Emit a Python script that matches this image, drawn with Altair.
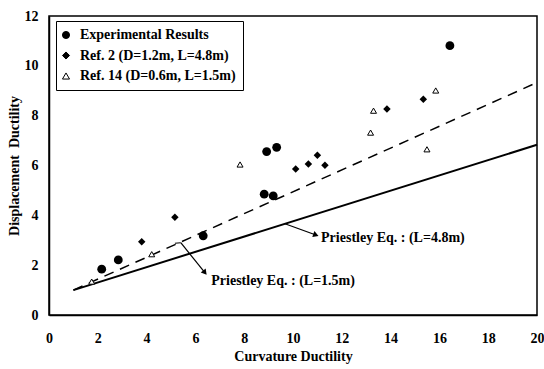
import altair as alt
import pandas as pd

# ---- data ----
series_names = ["Experimental Results", "Ref. 2 (D=1.2m, L=4.8m)", "Ref. 14 (D=0.6m, L=1.5m)"]

exp_x = [2.16, 2.84, 6.32, 8.82, 9.19, 8.92, 9.33, 16.43]
exp_y = [1.84, 2.21, 3.18, 4.85, 4.78, 6.56, 6.73, 10.81]
ref2_x = [3.80, 5.16, 10.11, 10.63, 11.00, 11.31, 13.85, 15.34]
ref2_y = [2.94, 3.92, 5.86, 6.06, 6.41, 6.01, 8.27, 8.66]
ref14_x = [1.75, 4.21, 7.83, 13.18, 13.30, 15.49, 15.85]
ref14_y = [1.34, 2.44, 6.04, 7.32, 8.20, 6.65, 9.01]

# Priestley equation lines (straight lines)
line_x = [1, 20]
solid_y = [1.0, 6.83]
dashed_y = [1.0, 9.33]

# annotations
ann_text = ["Priestley Eq. : (L=4.8m)", "Priestley Eq. : (L=1.5m)"]
ann_text_x = [11.15, 6.65]
ann_text_y = [3.09, 1.37]
leader_x = [9.67, 5.16, 5.40]
leader_y = [3.66, 2.88, 2.90]
leader_x2 = [10.94, 5.40, 6.39]
leader_y2 = [3.21, 2.90, 1.70]
head_x = [10.94, 6.39]
head_y = [3.21, 1.70]
head_angle = [19.5, 51]

x_ticks = list(range(0, 21, 2))
y_ticks = list(range(0, 13, 2))

FONT = "Liberation Serif"

exp_df = pd.DataFrame({"x": exp_x, "y": exp_y})
ref2_df = pd.DataFrame({"x": ref2_x, "y": ref2_y})
ref14_df = pd.DataFrame({"x": ref14_x, "y": ref14_y})
legend_df = pd.DataFrame({"x": [exp_x[0], ref2_x[0], ref14_x[0]],
                          "y": [exp_y[0], ref2_y[0], ref14_y[0]],
                          "series": series_names})

solid_df = pd.DataFrame({"x": line_x, "y": solid_y})
dashed_df = pd.DataFrame({"x": line_x, "y": dashed_y})
ann = pd.DataFrame({"x": ann_text_x, "y": ann_text_y, "t": ann_text})
lead = pd.DataFrame({"x": leader_x, "y": leader_y, "x2": leader_x2, "y2": leader_y2})
heads = pd.DataFrame({"x": head_x, "y": head_y, "a": head_angle})

xs = alt.Scale(domain=[0, 20], nice=False, zero=False)
ys = alt.Scale(domain=[0, 12], nice=False, zero=False)

xaxis = alt.Axis(title="Curvature Ductility", values=x_ticks, grid=False, tickSize=0,
                 labelPadding=16, titlePadding=4, labelFlush=False)
yaxis = alt.Axis(title="Displacement\u00a0\u00a0Ductility", values=y_ticks, grid=False, tickSize=0,
                 labelPadding=11, titlePadding=3, labelFlush=False)

base_x = alt.X("x:Q", scale=xs, axis=xaxis)
base_y = alt.Y("y:Q", scale=ys, axis=yaxis)

solid = alt.Chart(solid_df).mark_line(color="black", strokeWidth=2).encode(
    x=base_x, y=base_y)
dashed = alt.Chart(dashed_df).mark_line(
    color="black", strokeWidth=1.5, strokeDash=[10, 7]).encode(x=base_x, y=base_y)

exp_pts = alt.Chart(exp_df).mark_point(shape="circle", filled=True, color="black",
                                       size=78, opacity=1).encode(x="x:Q", y="y:Q")
ref2_pts = alt.Chart(ref2_df).mark_point(shape="diamond", filled=True, color="black",
                                         size=56, opacity=1).encode(x="x:Q", y="y:Q")
ref14_pts = alt.Chart(ref14_df).mark_point(shape="triangle-up", filled=True, fill="white",
                                           stroke="black", strokeWidth=1,
                                           size=36, opacity=1).encode(x="x:Q", y="y:Q")

leg = alt.Legend(title=None, orient="none", legendX=7, legendY=5,
                 strokeColor="black", padding=7, labelFont=FONT,
                 labelFontWeight="bold", labelFontSize=14,
                 labelColor="black", symbolSize=50, rowPadding=6.5,
                 labelOffset=7, symbolOffset=-4, symbolStrokeColor="black",
                 symbolStrokeWidth=1, symbolOpacity=1, fillColor="white")

legend_layer = alt.Chart(legend_df).mark_point(opacity=0, strokeWidth=1).encode(
    x="x:Q", y="y:Q",
    shape=alt.Shape("series:N", scale=alt.Scale(domain=series_names,
                                                 range=["circle", "diamond", "triangle-up"]),
                    legend=leg),
    fill=alt.Fill("series:N", scale=alt.Scale(domain=series_names,
                                               range=["black", "black", "white"]),
                  legend=leg),
    stroke=alt.Stroke("series:N", scale=alt.Scale(domain=series_names,
                                                   range=["black", "black", "black"]),
                      legend=leg),
)

leaders = alt.Chart(lead).mark_rule(color="black", strokeWidth=1.2).encode(
    x="x:Q", y="y:Q", x2="x2:Q", y2="y2:Q")
arrowheads = alt.Chart(heads).mark_point(shape="triangle-right", filled=True, color="black",
                                         size=40, opacity=1).encode(
    x="x:Q", y="y:Q", angle=alt.Angle("a:Q", scale=None))
labels = alt.Chart(ann).mark_text(align="left", baseline="middle", font=FONT, fontWeight="bold",
                                  fontSize=14, color="black").encode(x="x:Q", y="y:Q", text="t:N")

chart = alt.layer(solid, dashed, exp_pts, ref2_pts, ref14_pts, legend_layer,
                  leaders, arrowheads, labels).properties(
    width=488, height=299,
    autosize=alt.AutoSizeParams(type="none"),
    padding={"left": 49, "top": 16, "right": 7, "bottom": 54},
    background="white",
).configure_view(stroke="black", strokeWidth=1.5).configure_axis(
    labelFont=FONT, labelFontWeight="bold", labelFontSize=14, labelColor="black",
    titleFont=FONT, titleFontWeight="bold", titleFontSize=14, titleColor="black",
    domainColor="black", domainWidth=1.5,
).configure_legend(strokeWidth=1)

chart.save("out.html", embed_options={"renderer": "svg", "actions": False})
